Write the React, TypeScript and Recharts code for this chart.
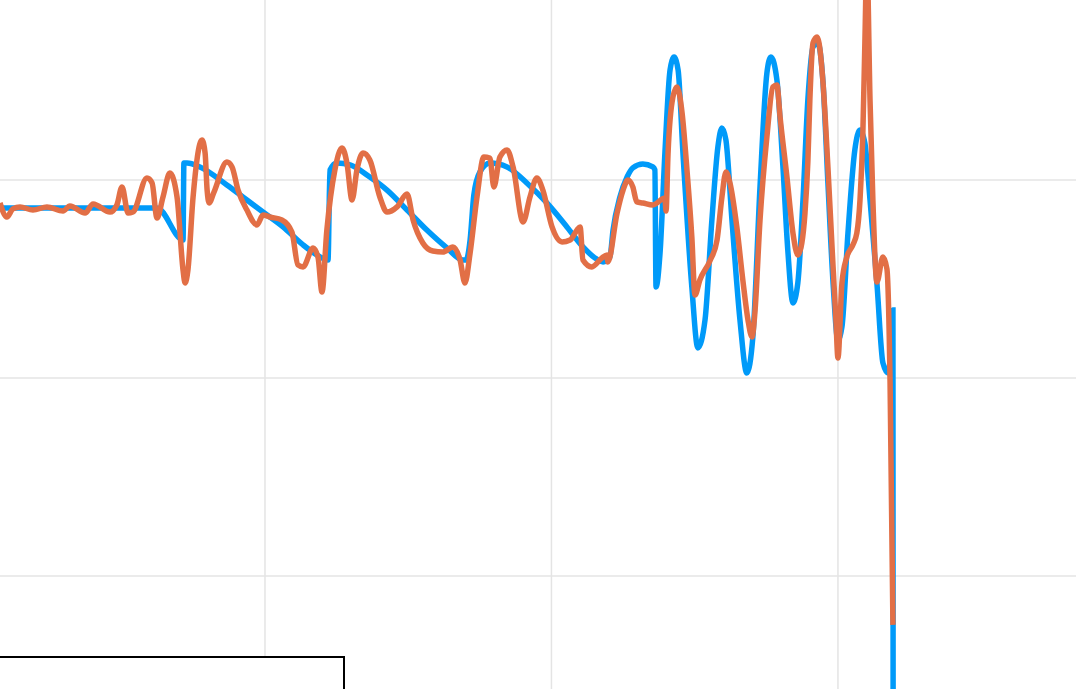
import React from 'react';
import { LineChart, Line, XAxis, YAxis, CartesianGrid } from 'recharts';

// blue trace: reference signal
const blueT = [
  0.75, 6.23, 7.14, 7.17, 7.28, 7.73, 8.67, 9.37, 9.93, 10.63, 11.33, 11.82, 12.2, 12.27, 12.51, 12.97,
  13.66, 14.26, 14.96, 15.65, 16.35, 16.91, 17.02, 17.16, 17.29, 17.5, 17.85, 18.45, 19.14, 19.84,
  20.54, 21.1, 21.52, 21.8, 22.04, 22.15, 22.39, 22.64, 22.84, 23.19, 23.54, 23.61, 23.65, 23.79,
  23.96, 24.14, 24.28, 24.42, 24.59, 24.9, 25.11, 25.36, 25.6, 25.81, 25.95, 26.09, 26.3, 26.58,
  26.82, 27.03, 27.28, 27.52, 27.66, 27.87, 28.08, 28.25, 28.43, 28.6, 28.78, 28.95, 29.13, 29.3,
  29.48, 29.65, 29.83, 30.0, 30.14, 30.35, 30.59, 30.77, 30.94, 31.12, 31.36, 31.57, 31.75, 31.82,
  31.92, 31.93,
];
const blueV = [
  0.859, 0.859, 0.697, 1.086, 1.086, 1.066, 0.975, 0.899, 0.838, 0.763, 0.672, 0.621, 0.596, 1.051, 1.086, 1.076,
  1.015, 0.949, 0.848, 0.747, 0.657, 0.596, 0.596, 0.697, 0.924, 1.04, 1.086, 1.066, 0.985, 0.884,
  0.763, 0.662, 0.606, 0.586, 0.611, 0.747, 0.914, 1.015, 1.061, 1.081, 1.066, 1.051, 0.46, 0.631,
  1.136, 1.556, 1.621, 1.556, 1.136, 0.46, 0.152, 0.293, 0.798, 1.167, 1.263, 1.202, 0.798, 0.293,
  0.025, 0.207, 0.965, 1.54, 1.621, 1.505, 1.066, 0.646, 0.379, 0.48, 0.899, 1.404, 1.672, 1.692,
  1.49, 0.985, 0.48, 0.192, 0.258, 0.732, 1.152, 1.253, 1.187, 0.899, 0.48, 0.076, 0.025, 0.091,
  0.343, -3.0,
];

// orange trace: estimate
const orangeT = [
  0.75, 0.99, 1.2, 1.45, 1.9, 2.39, 2.95, 3.19, 3.72, 4.0, 4.59, 4.83, 5.01, 5.22, 5.39, 5.88,
  6.06, 6.23, 6.44, 6.68, 6.93, 7.14, 7.21, 7.31, 7.49, 7.8, 7.91, 7.98, 8.05, 8.22, 8.67, 8.85,
  9.06, 9.37, 9.72, 9.93, 10.17, 10.59, 10.94, 11.15, 11.33, 11.68, 11.85, 11.99, 12.16, 12.44,
  12.69, 12.86, 13.04, 13.21, 13.42, 13.66, 14.01, 14.26, 14.61, 14.96, 15.17, 15.51, 15.86, 16.21,
  16.56, 16.81, 16.98, 17.16, 17.4, 17.64, 17.85, 17.99, 18.2, 18.45, 18.66, 19.01, 19.25, 19.49,
  19.7, 20.02, 20.37, 20.65, 20.89, 21.0, 21.1, 21.41, 21.76, 21.94, 21.97, 22.29, 22.5, 22.67,
  22.84, 22.98, 23.19, 23.54, 23.96, 24.0, 24.07, 24.24, 24.38, 24.56, 24.73, 24.9, 25.01, 25.18,
  25.53, 25.78, 25.95, 26.09, 26.23, 26.47, 26.68, 26.86, 27.0, 27.1, 27.28, 27.52, 27.73, 27.87,
  27.98, 28.22, 28.43, 28.6, 28.74, 28.85, 28.95, 29.02, 29.13, 29.27, 29.34, 29.48, 29.65, 29.83,
  29.93, 30.0, 30.14, 30.31, 30.52, 30.66, 30.77, 30.87, 30.94, 31.01, 31.12, 31.22, 31.36, 31.57,
  31.71, 31.82, 31.92,
];
const orangeV = [
  0.884, 0.813, 0.854, 0.864, 0.848, 0.864, 0.843, 0.869, 0.833, 0.879, 0.838, 0.874, 0.965, 0.833, 0.838, 1.01,
  0.985, 0.808, 0.914, 1.035, 0.914, 0.545, 0.48, 0.545, 0.914, 1.202, 1.136, 0.949, 0.884, 0.939, 1.091, 1.066,
  0.949, 0.848, 0.773, 0.823, 0.813, 0.798, 0.737, 0.571, 0.561, 0.657, 0.611, 0.434, 0.747, 1.051,
  1.162, 1.086, 0.899, 1.051, 1.136, 1.101, 0.914, 0.838, 0.864, 0.929, 0.798, 0.682, 0.641, 0.636,
  0.662, 0.596, 0.48, 0.631, 0.914, 1.116, 1.111, 0.965, 1.116, 1.152, 1.066, 0.788, 0.914, 1.01,
  0.949, 0.763, 0.687, 0.697, 0.747, 0.763, 0.596, 0.561, 0.606, 0.621, 0.586, 0.833, 0.949, 1.0,
  0.965, 0.889, 0.884, 0.874, 0.909, 0.843, 1.136, 1.419, 1.47, 1.338, 1.051, 0.712, 0.419, 0.495,
  0.591, 0.697, 0.914, 1.04, 0.985, 0.763, 0.495, 0.293, 0.207, 0.328, 0.798, 1.217, 1.47, 1.48,
  1.318, 1.015, 0.732, 0.621, 0.682, 0.833, 1.091, 1.404, 1.692, 1.722, 1.692, 1.49, 1.066, 0.561,
  0.293, 0.101, 0.48, 0.611, 0.672, 0.732, 0.899, 1.237, 1.692, 2.111, 1.404, 0.899, 0.485, 0.611,
  0.551, -0.025, -1.247,
];

const gridX = [10, 20, 30];
const gridY = [1, 0, -1];

const blueData = blueT.map((t, i) => ({ t, v: blueV[i] }));
const orangeData = orangeT.map((t, i) => ({ t, v: orangeV[i] }));

const W = 1076;
const H = 689;

export default function App() {
  return (
    <div style={{ position: 'absolute', left: 0, top: 0, width: W, height: H, overflow: 'hidden', background: '#fff' }}>
      <LineChart width={W} height={H} margin={{ top: 0, right: 0, bottom: 0, left: 0 }}>
        <CartesianGrid
          stroke="#e4e4e4"
          strokeWidth={1.5}
          horizontalValues={gridY}
          verticalValues={gridX}
        />
        <XAxis type="number" dataKey="t" domain={[0.7504, 38.31]} allowDataOverflow hide />
        <YAxis type="number" domain={[-1.5707, 1.909]} allowDataOverflow hide />
        <Line
          data={blueData}
          dataKey="v"
          type="monotone"
          stroke="#009af9"
          strokeWidth={5.5}
          dot={false}
          isAnimationActive={false}
        />
        <Line
          data={orangeData}
          dataKey="v"
          type="monotone"
          stroke="#e26f46"
          strokeWidth={5.5}
          dot={false}
          isAnimationActive={false}
        />
      </LineChart>
      <div
        style={{
          position: 'absolute',
          left: -10,
          top: 656,
          width: 355,
          height: 100,
          boxSizing: 'border-box',
          border: '2.5px solid #000',
          background: '#fff',
        }}
      />
    </div>
  );
}
